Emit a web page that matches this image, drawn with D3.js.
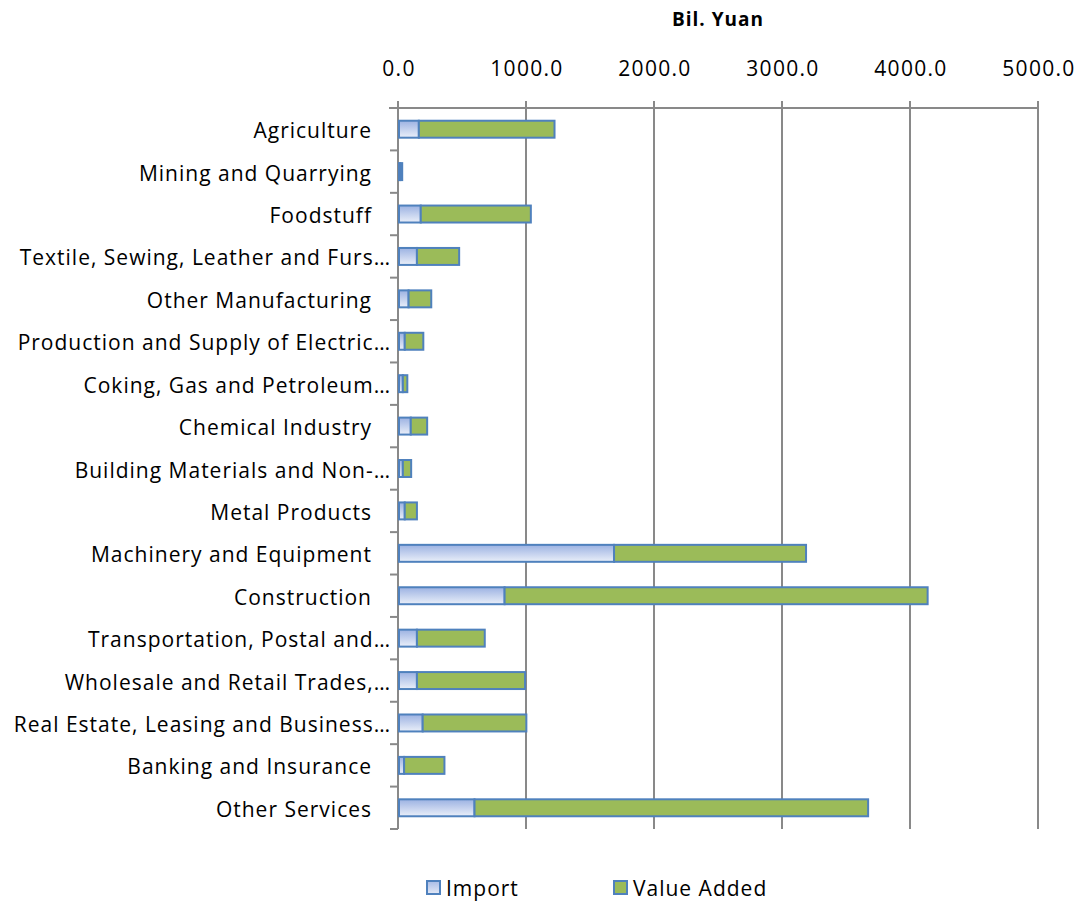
<!DOCTYPE html>
<html><head><meta charset="utf-8">
<script src="https://cdn.jsdelivr.net/npm/d3@7"></script>
<style>body{margin:0;background:#fff;} text{font-family:"Open Sans",sans-serif;fill:#000;}</style>
</head><body>
<svg id="c" width="1082" height="903"></svg>
<script>
const categories = ["Agriculture","Mining and Quarrying","Foodstuff","Textile, Sewing, Leather and Furs…","Other Manufacturing","Production and Supply of Electric…","Coking, Gas and Petroleum…","Chemical Industry","Building Materials and Non-…","Metal Products","Machinery and Equipment","Construction","Transportation, Postal and…","Wholesale and Retail Trades,…","Real Estate, Leasing and Business…","Banking and Insurance","Other Services"];
const truncated = [false,false,false,true,false,true,true,false,true,false,false,false,true,true,true,false,false];
const importVals = [155,10,170,140,75,45,30,92,30,45,1680,825,140,140,185,40,590];
const valueAdded = [1060,15,860,330,177,145,35,128,65,95,1500,3305,530,845,810,315,3075];
const xTicks = [0,1000,2000,3000,4000,5000];
const seriesNames = ["Import","Value Added"];
const axisTitle = "Bil. Yuan";

(function(){
const svg = d3.select("#c");
const mLeft = 398, mTop = 108, pw = 640, ph = 721;
const x = d3.scaleLinear().domain([0,5000]).range([mLeft,mLeft+pw]);
const y = d3.scaleBand().domain(categories).range([mTop,mTop+ph]).paddingInner(0.6).paddingOuter(0.3);
const yb = d3.scaleBand().domain(categories).range([mTop,mTop+ph]);

const defs = svg.append("defs");
const g = defs.append("linearGradient").attr("id","impGrad").attr("x1",0).attr("y1",0).attr("x2",0).attr("y2",1);
g.append("stop").attr("offset","0%").attr("stop-color","#9cb2e2");
g.append("stop").attr("offset","100%").attr("stop-color","#eaeff9");
const gl = defs.append("linearGradient").attr("id","impGradL").attr("x1",0).attr("y1",0).attr("x2",0).attr("y2",1);
gl.append("stop").attr("offset","0%").attr("stop-color","#a9bce6");
gl.append("stop").attr("offset","100%").attr("stop-color","#e3e9f6");

const grid = "#898989";
svg.append("g").selectAll("line").data(xTicks).join("line")
  .attr("x1",d=>x(d)).attr("x2",d=>x(d)).attr("y1",mTop-7).attr("y2",mTop+ph)
  .attr("stroke",grid).attr("stroke-width",2);
svg.append("line").attr("x1",mLeft-9).attr("x2",x(5000)).attr("y1",mTop).attr("y2",mTop).attr("stroke",grid).attr("stroke-width",2);
const tickYs = categories.map(c=>yb(c)).concat([mTop+ph]);
svg.append("g").selectAll("line").data(tickYs).join("line")
  .attr("x1",mLeft-8).attr("x2",mLeft).attr("y1",d=>d).attr("y2",d=>d)
  .attr("stroke",grid).attr("stroke-width",2);

svg.append("g").selectAll("text").data(xTicks).join("text")
  .attr("x",d=>x(d)+1).attr("y",68).attr("text-anchor","middle").attr("dominant-baseline","central")
  .style("font-size","21px").style("letter-spacing","1.3px").text(d=>d3.format(".1f")(d));
svg.append("text").attr("x",718).attr("y",19).attr("text-anchor","middle").attr("dominant-baseline","central")
  .style("font-size","19px").style("font-weight","bold").style("letter-spacing","1px").text(axisTitle);

svg.append("g").selectAll("text").data(categories).join("text")
  .attr("x",(d,i)=>truncated[i]?391:372).attr("y",d=>yb(d)+yb.bandwidth()/2+1)
  .attr("text-anchor","end").attr("dominant-baseline","central")
  .style("font-size","21px").style("letter-spacing","1px").text(d=>d);

const bars = svg.append("g");
bars.selectAll("rect.imp").data(categories).join("rect").attr("class","imp")
  .attr("x",x(0)+1).attr("y",d=>y(d)).attr("height",y.bandwidth())
  .attr("width",(d,i)=>Math.max(0.5,x(importVals[i])-x(0)))
  .attr("fill","url(#impGrad)").attr("stroke","#4f81bd").attr("stroke-width",2);
bars.selectAll("rect.va").data(categories).join("rect").attr("class","va")
  .attr("x",(d,i)=>x(importVals[i])+1).attr("y",d=>y(d)).attr("height",y.bandwidth())
  .attr("width",(d,i)=>Math.max(0.5,x(importVals[i]+valueAdded[i])-x(importVals[i])))
  .attr("fill","#9bbb59").attr("stroke","#4f81bd").attr("stroke-width",2);

const leg = svg.append("g");
const legX = [427,614];
seriesNames.forEach((s,i)=>{
  leg.append("rect").attr("x",legX[i]).attr("y",881).attr("width",13).attr("height",13)
    .attr("fill",i===0?"url(#impGradL)":"#9bbb59").attr("stroke","#4f81bd").attr("stroke-width",2);
  leg.append("text").attr("x",legX[i]+19).attr("y",888).attr("dominant-baseline","central")
    .style("font-size","21px").style("letter-spacing","1px").text(s);
});
})();
</script>
</body></html>
